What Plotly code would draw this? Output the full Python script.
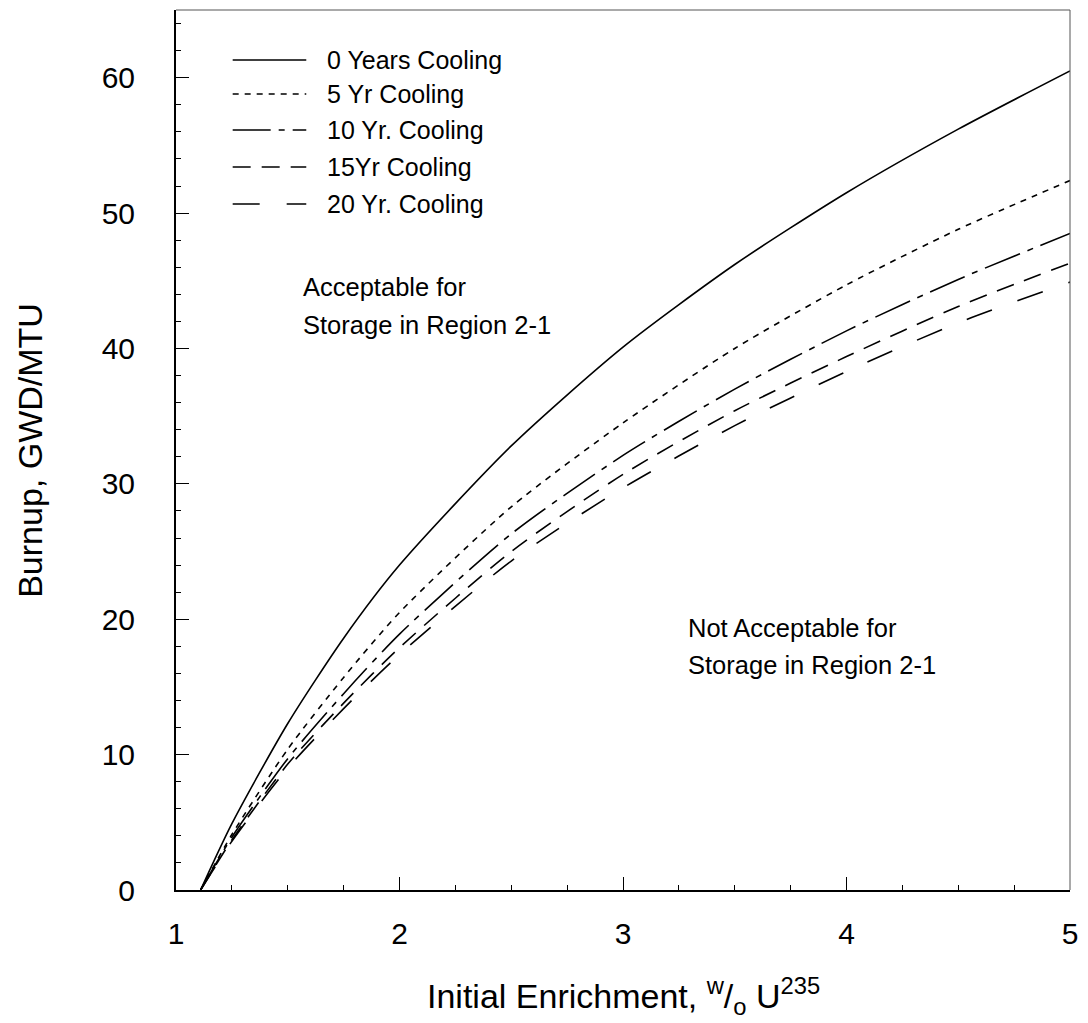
import plotly.graph_objects as go

# ---- data ----
enrichment = [1.11, 1.25, 1.5, 1.75, 2.0, 2.5, 3.0, 3.5, 4.0, 4.5, 5.0]
burnup_0yr = [0, 4.9, 12.3, 18.6, 24.0, 32.8, 40.1, 46.2, 51.5, 56.2, 60.5]
burnup_5yr = [0, 4.1, 10.4, 15.7, 20.5, 28.3, 34.5, 40.0, 44.7, 48.8, 52.4]
burnup_10yr = [0, 3.9, 9.7, 14.5, 18.9, 26.3, 32.1, 37.0, 41.3, 45.1, 48.5]
burnup_15yr = [0, 3.7, 9.3, 13.8, 17.9, 25.0, 30.7, 35.4, 39.4, 43.1, 46.3]
burnup_20yr = [0, 3.6, 9.0, 13.4, 17.4, 24.3, 29.7, 34.3, 38.3, 41.9, 44.9]

series_names = ["0 Years Cooling", "5 Yr Cooling", "10 Yr. Cooling", "15Yr Cooling", "20 Yr. Cooling"]
series_values = [burnup_0yr, burnup_5yr, burnup_10yr, burnup_15yr, burnup_20yr]
dash_styles = ["solid", "6px,6px", "38px,8px,6px,8px", "18px,11px", "27px,27px"]

x_label_ticks = [1, 2, 3, 4, 5]
x_half_ticks = [1.5, 2.5, 3.5, 4.5]
y_tickvals = [0, 10, 20, 30, 40, 50, 60]

W, H = 1088, 1023
L, R, T, B = 176, 13, 10, 133
FONT = "Liberation Sans, Arial, Helvetica, sans-serif"


def px_x(px):
    return (px - L) / (W - L - R)


def px_y(py):
    return (H - B - py) / (H - T - B)


fig = go.Figure()
for name, vals, dash in zip(series_names, series_values, dash_styles):
    fig.add_trace(go.Scatter(
        x=enrichment, y=vals, mode="lines", name=name,
        line=dict(color="black", width=1.6, dash=dash, shape="spline", smoothing=0.7),
        showlegend=False,
    ))

# custom legend (long line samples like the reference)
legend_rows = [60, 94, 130, 167, 204]
for name, dash, ry in zip(series_names, dash_styles, legend_rows):
    fig.add_shape(type="line", xref="paper", yref="paper",
                  x0=px_x(233), x1=px_x(307), y0=px_y(ry), y1=px_y(ry),
                  line=dict(color="black", width=1.6, dash=dash))
    fig.add_annotation(text=name, xref="paper", yref="paper",
                       x=px_x(326), y=px_y(ry), xanchor="left", yanchor="middle",
                       showarrow=False, font=dict(family=FONT, size=25, color="black"))

# region labels
region_labels = [("Acceptable for", 302, 287), ("Storage in Region 2-1", 302, 325),
                 ("Not Acceptable for", 689, 628), ("Storage in Region 2-1", 689, 665)]
for txt, lx, ly in region_labels:
    fig.add_annotation(text=txt, xref="paper", yref="paper", x=px_x(lx), y=px_y(ly),
                       xanchor="left", yanchor="middle", showarrow=False,
                       font=dict(family=FONT, size=25.5, color="black"))

# axis titles
fig.add_annotation(text="Initial Enrichment, <sup>w</sup>/<sub>o</sub> U<sup>235</sup>",
                   xref="paper", yref="paper", x=0.5, y=px_y(996),
                   xanchor="center", yanchor="middle", showarrow=False,
                   font=dict(family=FONT, size=34, color="black"))
fig.add_annotation(text="Burnup, GWD/MTU", xref="paper", yref="paper",
                   x=px_x(29), y=0.5, xanchor="center", yanchor="middle",
                   textangle=-90, showarrow=False,
                   font=dict(family=FONT, size=34, color="black"))

# top and right frame lines (thin gray)
fig.add_shape(type="line", xref="paper", yref="paper", x0=0, x1=1, y0=1, y1=1,
              line=dict(color="#555555", width=1))
fig.add_shape(type="line", xref="paper", yref="paper", x0=1, x1=1, y0=0, y1=1,
              line=dict(color="#555555", width=1))

fig.update_layout(
    width=W, height=H,
    margin=dict(l=L, r=R, t=T, b=B),
    paper_bgcolor="white", plot_bgcolor="white",
    font=dict(family=FONT, color="black"),
    xaxis=dict(
        range=[1, 5], tickmode="array", tickvals=x_label_ticks,
        ticks="inside", ticklen=13, tickwidth=1, tickcolor="black",
        minor=dict(dtick=0.25, tick0=1, ticks="inside", ticklen=5, tickcolor="black", showgrid=False),
        showline=True, linecolor="black", linewidth=2, showgrid=False, zeroline=False,
        tickfont=dict(family=FONT, size=30, color="black"), ticklabelstandoff=16,
    ),
    xaxis2=dict(
        range=[1, 5], overlaying="x", anchor="y", side="bottom",
        tickmode="array", tickvals=x_half_ticks, showticklabels=False,
        ticks="inside", ticklen=13, tickwidth=1, tickcolor="black",
        showline=False, showgrid=False, zeroline=False,
    ),
    yaxis=dict(
        range=[0, 65], tickmode="array", tickvals=y_tickvals,
        ticks="inside", ticklen=13, tickwidth=1, tickcolor="black",
        minor=dict(dtick=2, tick0=0, ticks="inside", ticklen=5, tickcolor="black", showgrid=False),
        showline=True, linecolor="black", linewidth=2, showgrid=False, zeroline=False,
        tickfont=dict(family=FONT, size=30, color="black"), ticklabelstandoff=33,
    ),
)

fig.write_html("out.html", config={"displayModeBar": False},
               post_script="document.body.style.margin='0';document.body.style.overflow='hidden';")
